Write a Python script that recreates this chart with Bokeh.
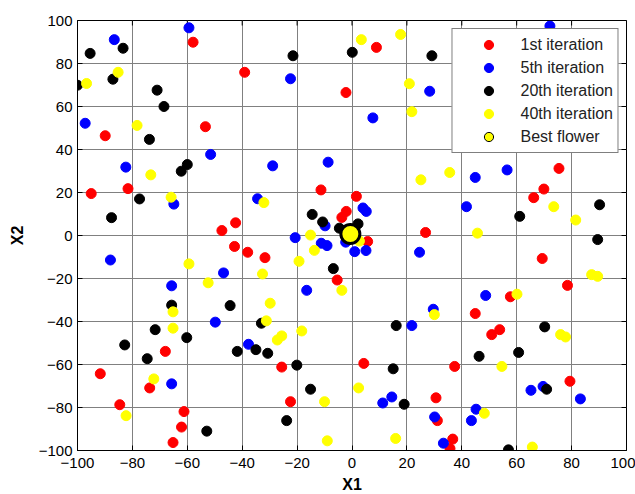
from bokeh.plotting import figure
from bokeh.models import Range1d, FixedTicker, Legend, LegendItem
from bokeh.embed import file_html
from bokeh.resources import INLINE

# ---- data ----
ticks = [-100, -80, -60, -40, -20, 0, 20, 40, 60, 80, 100]

red_x = [-57.9, -39.1, -89.9, -53.4, -95, -81.6, -47.4, -42.4, 8.9, -2.2, -11.3, 1.6, -2.1, -3.7, 26.8,
         75.4, 69.9, 66.2, -42.8, -38, -68, -91.7, -73.7, -84.6, -61.2, -62.1, -65.2,
         5.7, -31.7, -5.4, -25.6, 4.3, -22.4, 30.6, 31.1,
         69.3, 78.5, 57.7, 44.9, 50.9, 53.8, 37.4, 79.4, 36.7, 35.7]
red_y = [89.9, 75.9, 46.4, 50.6, 19.5, 21.8, 2.3, 5.9, 87.5, 66.5, 21.2, 18.2, 11.2, 8.4, 1.4,
         31.2, 21.6, 17.6, -5.1, -7.8, -53.9, -64.3, -70.9, -78.7, -81.9, -89.1, -96.3,
         -2.8, -10.3, -20.7, -61.2, -59.5, -77.3, -75.5, -86.1,
         -10.7, -23.2, -28.5, -36.3, -46.1, -43.8, -60.9, -67.8, -94.7, -99.1]

blue_x = [-86.6, -59.4, -97.2, -51.5, -82.4, -34.4, -64.9, -22.4, 28.3, 7.6, -28.9, -8.7, 4, 5.2, -9.8, -20.7,
          72.1, 44.9, 56.5, 41.7, -88, -46.8, -65.7, -49.8, -37.7, -65.7,
          -11.2, -9.1, -2.3, 1, 5.1, 24.6, -16.5, 29.6, 21.8, 11.2, 14.5, 30.1, 33.3,
          48.7, 65.2, 69.6, 83.2, 45.2, 43.5]
blue_y = [91.1, 96.6, 52.2, 37.7, 31.8, 17.1, 14.6, 72.9, 67.1, 54.7, 32.4, 34.1, 12.8, 11.2, 4.5, -1,
          97.4, 27, 30.5, 13.4, -11.4, -17.4, -23.4, -40.3, -50.6, -69,
          -3.6, -4.7, -3.1, -7.5, -7, -7.8, -25.5, -34.3, -41.9, -77.9, -75.1, -84.4, -96.6,
          -27.9, -72, -70.2, -76, -80.8, -86.1]

black_x = [-95.4, -83.4, -100, -87.1, -71, -68.5, -73.8, -62.2, -60, -77.4, -87.6,
           -21.5, 0.1, 29.1, -14.5, -10.7, -4.6, 2.2, 90.2, 61.1,
           -65.7, -44.4, -71.7, -33, -60.2, -82.8, -41.8, -35, -74.6, -52.9,
           -6.8, 16.1, -20.1, 15, -15.1, 19, -23.8, -30.7,
           89.5, 70.2, 46.3, 60.7, 70.9, 57]
black_y = [84.7, 87.1, 69.9, 72.7, 67.6, 60, 44.7, 29.9, 33, 17, 8.3,
           83.6, 85.2, 83.6, 9.8, 6.3, 3.4, 5.4, 14.3, 8.9,
           -32.4, -32.6, -43.8, -40.8, -47.5, -50.9, -53.9, -53.1, -57.3, -91,
           -15.4, -41.9, -60.3, -62, -71.5, -78.5, -86.1, -54.8,
           -1.9, -42.5, -56.2, -54.4, -71.5, -99.7]

yellow_x = [-96.7, -85.2, -78.3, -73.3, -65.9, -32.1, 3.4, 17.7, 20.9, 21.8, 25.1, 35.6, -15.1,
            73.5, 81.5, 45.7, -59.4, -52.4, -65.2, -65.2, -72.2, -82.3,
            2.7, -13.7, -19.3, -32.6, -3.7, -29.8, 30, -31.2, -18.3, -25.6, -27.2, 2.4, -10, -9, 15.9,
            87.3, 89.5, 60.1, 76, 77.8, 54.6, 48.2, 65.7]
yellow_y = [70.7, 75.9, 51.2, 28.2, 17.8, 15.3, 91.1, 93.5, 70.6, 57.6, 25.9, 29.3, 0.2,
            13.4, 7.2, 1.1, -13.2, -22, -35.5, -43.1, -66.7, -83.8,
            -2.6, -6.9, -12, -17.9, -25.5, -31.5, -36.8, -39.7, -44.4, -46.7, -48.6, -70.9, -77.3, -95.5, -94.4,
            -18.2, -19, -27.3, -46.1, -47.2, -60.9, -82.7, -98.4]

best_x = [-0.6]
best_y = [0.7]

labels = ["1st iteration", "5th iteration", "20th iteration", "40th iteration", "Best flower"]

FONT = "Liberation Sans"
X0, X1 = -100, 100
Y0, Y1 = -100, 100

p = figure(frame_width=549, frame_height=430, output_backend="svg", toolbar_location=None,
           x_range=Range1d(X0, X1), y_range=Range1d(Y0, Y1),
           min_border_left=77, min_border_right=9, min_border_top=20, min_border_bottom=44,
           background_fill_color="white", border_fill_color="white")
p.outline_line_color = "black"
p.outline_line_width = 1

tk = FixedTicker(ticks=ticks)
for ax in (p.xaxis[0], p.yaxis[0]):
    ax.ticker = tk
    ax.axis_line_color = "black"
    ax.major_tick_line_color = "black"
    ax.major_tick_in = 5
    ax.major_tick_out = 0
    ax.minor_tick_line_color = None
    ax.major_label_text_font = FONT
    ax.major_label_text_font_size = "15px"
    ax.major_label_text_color = "black"
    ax.axis_label_text_font = FONT
    ax.axis_label_text_font_size = "16px"
    ax.axis_label_text_font_style = "bold"
    ax.axis_label_text_color = "black"
p.xaxis.axis_label = "X1"
p.yaxis.axis_label = "X2"
p.xaxis.major_label_standoff = 7
p.xaxis.axis_label_standoff = 5
p.yaxis.major_label_standoff = 5
p.yaxis.axis_label_standoff = 10

p.grid.ticker = tk
p.grid.grid_line_color = "#808080"
p.grid.grid_line_width = 1

# inward ticks on the top and right edges (half of each dash is clipped by the frame)
p.scatter(ticks, [Y1] * len(ticks), marker="dash", angle=1.5708, size=10, line_color="black", line_width=1)
p.scatter([X1] * len(ticks), ticks, marker="dash", size=10, line_color="black", line_width=1)

S = 10
r_red = p.scatter(red_x, red_y, size=S, marker="circle", fill_color="#ff0000", line_color="#ff0000")
r_blue = p.scatter(blue_x, blue_y, size=S, marker="circle", fill_color="#0000ff", line_color="#0000ff")
r_black = p.scatter(black_x, black_y, size=S, marker="circle", fill_color="#000000", line_color="#000000")
r_yellow = p.scatter(yellow_x, yellow_y, size=S, marker="circle", fill_color="#ffff00", line_color="#ffff00")
r_best_leg = p.scatter(best_x, best_y, size=S, marker="circle", fill_color="#ffff00", line_color="#000000", line_width=1)
r_best = p.scatter(best_x, best_y, size=19, marker="circle", fill_color="#ffff00", line_color="#000000", line_width=3)

legend = Legend(items=[LegendItem(label=l, renderers=[r]) for l, r in
                       zip(labels, [r_red, r_blue, r_black, r_yellow, r_best_leg])],
                location="top_right", margin=8, padding=4, spacing=0,
                glyph_width=64, glyph_height=23, label_height=20, label_standoff=0,
                label_text_font=FONT, label_text_font_size="16px", label_text_color="#222222",
                border_line_color="black", border_line_width=1, background_fill_color="white",
                background_fill_alpha=1)
p.add_layout(legend, "center")

open("out.html", "w").write(file_html(p, INLINE))
